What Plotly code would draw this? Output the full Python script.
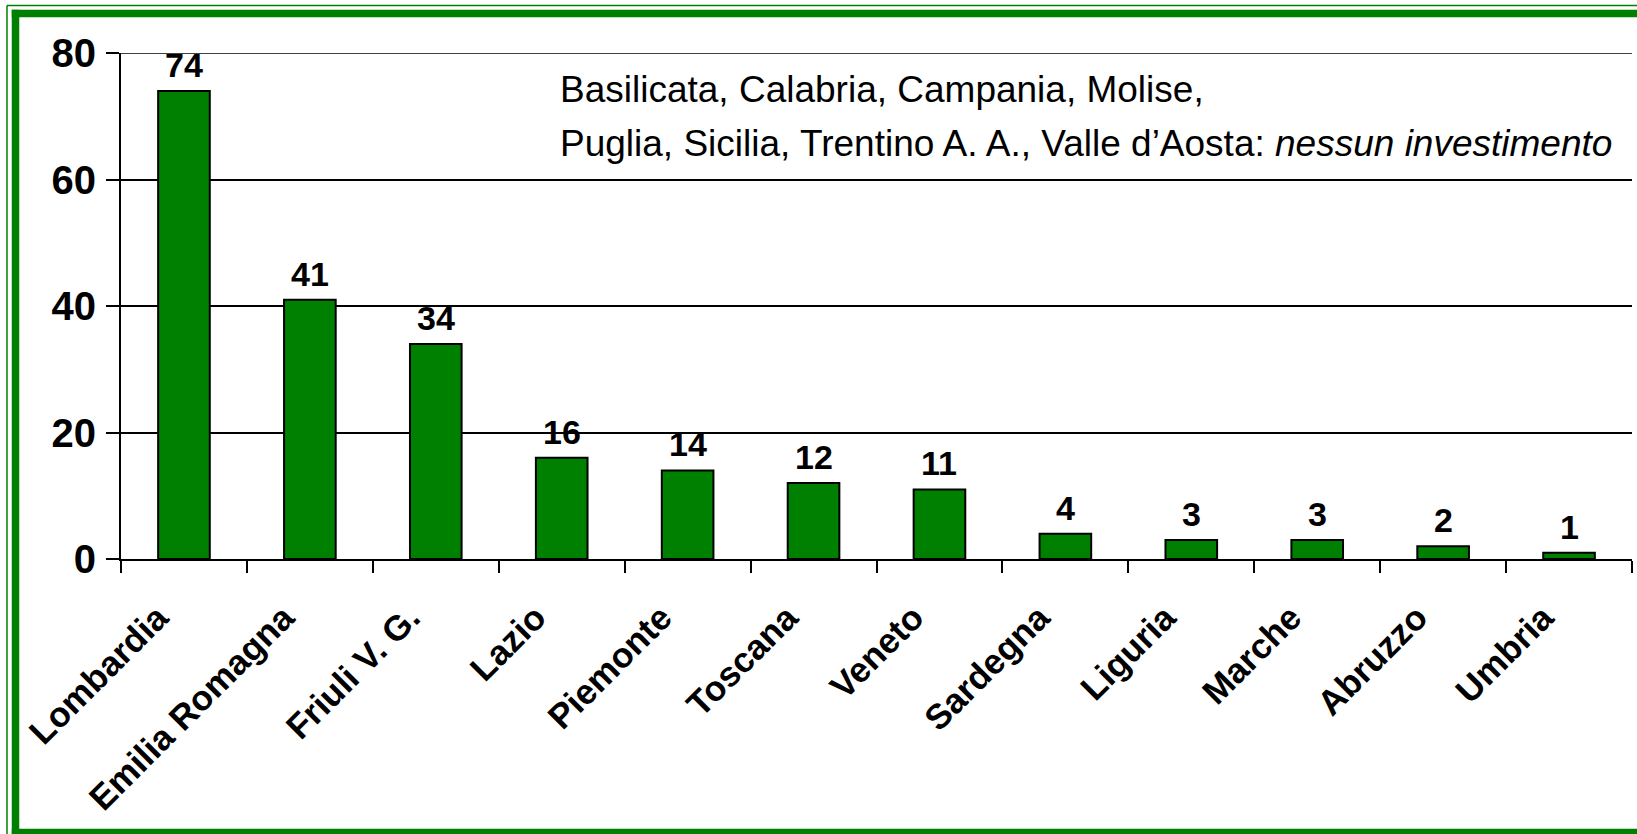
import plotly.graph_objects as go

regions = ["Lombardia", "Emilia Romagna", "Friuli V. G.", "Lazio", "Piemonte",
           "Toscana", "Veneto", "Sardegna", "Liguria", "Marche", "Abruzzo", "Umbria"]
values = [74, 41, 34, 16, 14, 12, 11, 4, 3, 3, 2, 1]
y_ticks = [0, 20, 40, 60, 80]
note_line1 = "Basilicata, Calabria, Campania, Molise,"
note_line2 = "Puglia, Sicilia, Trentino A. A., Valle d\u2019Aosta: <i>nessun investimento</i>"

W, H = 1637, 834
ML, MR, MT, MB = 121, 5, 53, 275
PW, PH = W - ML - MR, H - MT - MB

def px(x):
    return (x - ML) / PW

def py(y):
    return (H - MB - y) / PH

FONT = "Liberation Sans, Arial, sans-serif"
GREEN = "#008000"

fig = go.Figure()
fig.add_trace(go.Bar(
    x=regions, y=values,
    marker=dict(color=GREEN, line=dict(color="black", width=2)),
    width=0.41,
    hoverinfo="x+y",
))

annotations = []
for r, v in zip(regions, values):
    annotations.append(dict(
        x=r, y=v, xref="x", yref="y", text=f"<b>{v}</b>", showarrow=False,
        yanchor="bottom", yshift=5,
        font=dict(family=FONT, size=34, color="black"),
    ))

annotations.append(dict(
    x=px(558), y=py(89), xref="paper", yref="paper", text=note_line1,
    showarrow=False, xanchor="left", yanchor="middle",
    font=dict(family=FONT, size=37, color="black"),
))
annotations.append(dict(
    x=px(558), y=py(143), xref="paper", yref="paper", text=note_line2,
    showarrow=False, xanchor="left", yanchor="middle",
    font=dict(family=FONT, size=37, color="black"),
))

X_END = px(W)
shapes = [
    # outer thin border (top, left)
    dict(type="line", xref="paper", yref="paper",
         x0=px(7), x1=X_END, y0=py(5.5), y1=py(5.5),
         line=dict(color=GREEN, width=1.5), layer="below"),
    dict(type="line", xref="paper", yref="paper",
         x0=px(7), x1=px(7), y0=py(5.5), y1=py(H),
         line=dict(color=GREEN, width=1.5), layer="below"),
    # inner thick border (top, left, bottom)
    dict(type="line", xref="paper", yref="paper",
         x0=px(11.75), x1=X_END, y0=py(13.5), y1=py(13.5),
         line=dict(color=GREEN, width=7.5), layer="below"),
    dict(type="line", xref="paper", yref="paper",
         x0=px(15.5), x1=px(15.5), y0=py(9.75), y1=py(H),
         line=dict(color=GREEN, width=7.5), layer="below"),
    dict(type="line", xref="paper", yref="paper",
         x0=px(11.75), x1=X_END, y0=py(832.5), y1=py(832.5),
         line=dict(color=GREEN, width=7.5), layer="below"),
    # top gridline at the upper end of the axis
    dict(type="line", xref="paper", yref="y", x0=0, x1=1, y0=80, y1=80,
         line=dict(color="black", width=1.5), layer="below"),
]

fig.update_layout(
    width=W, height=H,
    margin=dict(l=ML, r=MR, t=MT, b=MB, pad=0),
    paper_bgcolor="white", plot_bgcolor="white",
    showlegend=False,
    bargap=0.59,
    annotations=annotations,
    shapes=shapes,
    font=dict(family=FONT, color="black"),
)

fig.update_xaxes(
    type="category",
    tickson="boundaries",
    ticks="outside", ticklen=12, tickwidth=2, tickcolor="black",
    showline=True, linecolor="black", linewidth=2,
    tickangle=-45,
    ticklabelstandoff=22,
    ticklabelshift=-26,
    tickfont=dict(family=FONT, size=35, color="black", weight="bold"),
    showgrid=False,
)

fig.update_yaxes(
    range=[0, 80],
    tickvals=y_ticks,
    ticktext=[f"<b>{t}</b>" for t in y_ticks],
    ticks="outside", ticklen=13, tickwidth=2, tickcolor="black",
    showline=True, linecolor="black", linewidth=2,
    showgrid=True, gridcolor="black", gridwidth=1.5,
    zeroline=False,
    ticklabelstandoff=2,
    tickfont=dict(family=FONT, size=40, color="black"),
)

fig.write_html(
    "out.html",
    config={"displayModeBar": False},
    post_script="document.body.style.margin='0';document.body.style.overflow='hidden';",
)
